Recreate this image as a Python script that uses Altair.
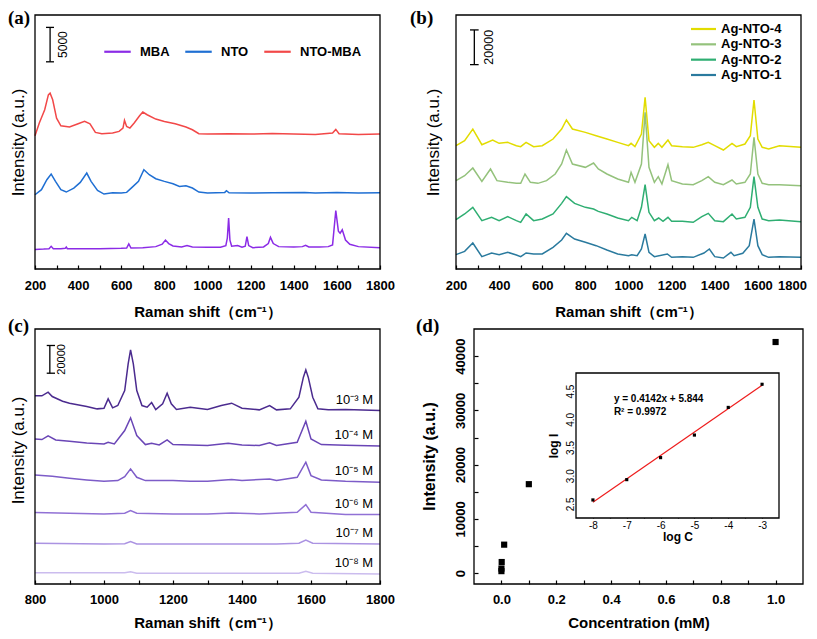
import altair as alt
import pandas as pd

W, H = 801, 623
SANS = "Liberation Sans"
SERIF = "Liberation Serif"

# ---------------- panel (a) ----------------
A_NAMES = ["MBA", "NTO", "NTO-MBA"]
A_COLORS = ["#8b2be6", "#1f6fd3", "#f24848"]
A_MBA = [(200, 2850), (240, 2900), (265, 2950), (275, 3300), (285, 2950), (320, 2950), (340, 3000),
         (345, 3200), (350, 2950), (400, 2950), (500, 2950), (600, 3000), (625, 3050), (635, 3650),
         (645, 3050), (700, 3100), (760, 3250), (790, 3600), (805, 4200), (820, 3700), (840, 3350),
         (880, 3200), (905, 3400), (930, 3200), (1000, 3150), (1060, 3150), (1085, 3400), (1092, 4500),
         (1098, 7400), (1104, 4200), (1112, 3300), (1140, 3400), (1160, 3150), (1175, 3300), (1183, 4700),
         (1191, 3400), (1210, 3100), (1260, 3200), (1282, 3700), (1292, 4600), (1305, 3700), (1330, 3250),
         (1400, 3200), (1440, 3250), (1455, 3450), (1470, 3200), (1520, 3200), (1560, 3250), (1580, 3500),
         (1595, 8500), (1607, 5500), (1615, 5200), (1625, 5700), (1640, 4200), (1660, 3600), (1700, 3250),
         (1800, 3100)]
A_NTO = [(200, 10790), (230, 11520), (255, 12970), (275, 13790), (295, 12730), (320, 11520), (345, 11180),
         (380, 11760), (410, 12580), (440, 13940), (460, 12730), (490, 11420), (520, 10890), (560, 11080),
         (600, 11030), (625, 11130), (650, 11860), (680, 12730), (705, 14420), (730, 13700), (760, 13120),
         (800, 12730), (840, 12390), (870, 12000), (900, 12100), (930, 11760), (960, 11180), (1000, 11030),
         (1080, 11130), (1088, 11370), (1100, 11080), (1200, 11030), (1300, 11080), (1450, 11130),
         (1500, 11030), (1600, 11130), (1700, 11030), (1800, 11080)]
A_NTOMBA = [(200, 19360), (220, 21200), (245, 23130), (262, 25300), (270, 25550), (282, 24590), (300, 21920),
            (320, 20810), (360, 20620), (400, 21100), (430, 21440), (455, 21100), (480, 19840), (510, 19650),
            (560, 19750), (590, 19990), (608, 20470), (615, 21590), (625, 20710), (640, 20470), (660, 21200),
            (685, 22260), (700, 22800), (720, 22410), (760, 21780), (800, 21440), (850, 21100), (900, 20620),
            (930, 20230), (960, 19650), (1000, 19600), (1100, 19650), (1200, 19600), (1300, 19700),
            (1400, 19600), (1500, 19550), (1580, 19750), (1595, 20280), (1610, 19650), (1700, 19550),
            (1800, 19600)]
A_BAR = 5000

# ---------------- panel (b) ----------------
B_NAMES = ["Ag-NTO-4", "Ag-NTO-3", "Ag-NTO-2", "Ag-NTO-1"]
B_COLORS = ["#e2dc00", "#94c27c", "#2fae72", "#2a7a9e"]
B_1 = [(200, 8260), (240, 10180), (278, 14980), (320, 7110), (365, 9220), (400, 8260), (440, 9610),
       (480, 8070), (500, 7110), (525, 9220), (560, 8640), (600, 8640), (650, 12490), (690, 16710),
       (712, 20550), (750, 17290), (800, 15370), (850, 13450), (900, 10950), (950, 8640), (1000, 7680),
       (1015, 8260), (1040, 7680), (1060, 11530), (1077, 20170), (1095, 9610), (1120, 7110), (1180, 8640),
       (1200, 6720), (1250, 7110), (1300, 6720), (1350, 9220), (1375, 11530), (1400, 7110), (1440, 6340),
       (1475, 9610), (1490, 7680), (1530, 9030), (1560, 13450), (1582, 28810), (1600, 13450), (1620, 8260),
       (1650, 6720), (1700, 7110), (1800, 6720)]
B_2 = [(200, 28430), (240, 31700), (278, 35540), (320, 27850), (365, 29780), (400, 27850), (440, 30160),
       (480, 27850), (500, 26890), (525, 31700), (560, 27850), (600, 28820), (650, 31700), (690, 37840),
       (712, 41690), (750, 37840), (800, 35540), (838, 34580), (860, 33230), (900, 31700), (950, 29390),
       (1000, 27850), (1015, 29780), (1040, 27850), (1060, 35540), (1077, 48600), (1095, 32660),
       (1120, 27850), (1140, 29390), (1160, 27470), (1183, 29780), (1200, 27470), (1250, 27470),
       (1300, 26890), (1340, 30160), (1370, 32080), (1400, 27850), (1440, 27280), (1480, 31700),
       (1500, 28820), (1540, 29780), (1565, 35540), (1582, 53210), (1600, 35540), (1620, 28820),
       (1650, 27850), (1700, 28240), (1800, 27280)]
B_3 = [(200, 50910), (240, 53790), (278, 58210), (320, 50520), (360, 57630), (390, 50910), (440, 49950),
       (480, 49370), (500, 49370), (520, 54750), (545, 49950), (580, 49370), (620, 50910), (660, 54750),
       (690, 60510), (712, 68580), (740, 60510), (800, 58590), (838, 61090), (860, 57630), (900, 54750),
       (950, 51870), (1000, 49950), (1012, 55710), (1030, 49950), (1060, 60510), (1077, 90290),
       (1095, 58590), (1120, 49950), (1138, 53210), (1155, 48990), (1183, 60120), (1200, 50910),
       (1250, 48990), (1300, 48600), (1340, 50910), (1370, 53210), (1400, 49950), (1440, 48600),
       (1480, 51290), (1500, 48990), (1540, 49950), (1565, 54750), (1582, 75880), (1600, 54750),
       (1620, 49370), (1650, 48600), (1700, 48600), (1800, 48030)]
B_4 = [(200, 71080), (240, 73960), (278, 80680), (320, 71650), (370, 74340), (400, 72420), (440, 73000),
       (480, 71080), (500, 70500), (525, 73000), (560, 70500), (600, 71080), (650, 74920), (690, 80680),
       (712, 85870), (740, 80680), (800, 78760), (850, 76840), (900, 74920), (950, 73000), (1000, 71080),
       (1012, 72420), (1030, 70500), (1060, 77800), (1077, 98930), (1095, 73960), (1120, 70120),
       (1138, 72420), (1155, 70120), (1183, 74340), (1200, 71080), (1250, 70500), (1300, 70120),
       (1340, 71650), (1370, 73000), (1400, 71080), (1440, 68580), (1480, 72420), (1500, 70500),
       (1540, 72040), (1565, 76840), (1582, 97390), (1600, 74920), (1620, 70120), (1650, 69160),
       (1700, 71080), (1800, 70120)]
B_BAR = 20000

# ---------------- panel (c) ----------------
C_NAMES = ["10⁻³ M", "10⁻⁴ M", "10⁻⁵ M", "10⁻⁶ M", "10⁻⁷ M", "10⁻⁸ M"]
C_COLORS = ["#4b2b8f", "#6a46b6", "#7d5cc8", "#9171d5", "#ab93e2", "#cbbcee"]
C_3 = [(800, 135750), (820, 135750), (838, 138400), (850, 135270), (880, 131900), (900, 130460),
       (950, 128050), (980, 126370), (1000, 126850), (1012, 133590), (1025, 127090), (1040, 128770),
       (1060, 139610), (1070, 158860), (1077, 168970), (1085, 158860), (1095, 139610), (1110, 128770),
       (1125, 127570), (1138, 130940), (1150, 125890), (1170, 129980), (1183, 137680), (1195, 129980),
       (1210, 125890), (1250, 127570), (1300, 125890), (1340, 128770), (1370, 130460), (1400, 126850),
       (1450, 125650), (1480, 128770), (1500, 125650), (1540, 126370), (1565, 134790), (1578, 149230),
       (1585, 154530), (1592, 149230), (1605, 134790), (1620, 126370), (1650, 125650), (1700, 125890),
       (1800, 125160)]
C_4 = [(800, 104700), (820, 104220), (838, 106870), (860, 103980), (900, 103020), (950, 101820),
       (1000, 101090), (1012, 102300), (1030, 101090), (1060, 110720), (1077, 119870), (1095, 107110),
       (1120, 100610), (1138, 101580), (1160, 100370), (1183, 103980), (1200, 100610), (1250, 100370),
       (1300, 99890), (1360, 101580), (1400, 100370), (1450, 99890), (1480, 101820), (1500, 99890),
       (1560, 102300), (1585, 117460), (1600, 104700), (1630, 100610), (1700, 100130), (1800, 99650)]
C_5 = [(800, 78710), (850, 77750), (900, 76300), (950, 75100), (1000, 74140), (1040, 74620), (1060, 77510),
       (1077, 83040), (1095, 77020), (1120, 74620), (1200, 74620), (1250, 74140), (1300, 74140),
       (1370, 75340), (1400, 74620), (1480, 75820), (1500, 74620), (1560, 77020), (1585, 87860),
       (1600, 78230), (1630, 75100), (1700, 74140), (1800, 73410)]
C_6 = [(800, 51510), (900, 51030), (1000, 50550), (1060, 51030), (1077, 52950), (1095, 51030),
       (1200, 50550), (1300, 50550), (1370, 51270), (1450, 50550), (1560, 51750), (1585, 57290),
       (1600, 51750), (1700, 50070), (1800, 50070)]
C_7 = [(800, 29370), (1000, 28880), (1060, 29130), (1077, 30570), (1095, 28880), (1500, 28880),
       (1565, 29370), (1585, 31770), (1605, 29370), (1800, 28880)]
C_8 = [(800, 8180), (1060, 8180), (1077, 8910), (1095, 7700), (1565, 7700), (1585, 9150), (1605, 7700),
       (1800, 7220)]
C_BAR = 20000

# ---------------- panel (d) ----------------
D_CONC = [0.00001, 0.0001, 0.001, 0.01, 0.1, 1.0]
D_INT = [370, 850, 2050, 5250, 16400, 42600]
D_LOGC = [-8, -7, -6, -5, -4, -3]
D_LOGI = [2.57, 2.93, 3.32, 3.72, 4.21, 4.62]
D_FIT_X = [-8, -3]
D_FIT_Y = [2.530, 4.601]
D_EQ = "y = 0.4142x + 5.844"
D_R2 = "R² = 0.9972"

ONE = pd.DataFrame({"k": [0]})


def sc(dom, rng):
    return alt.Scale(domain=dom, range=rng, nice=False, zero=False)


def long_df(names, series):
    rows = []
    for n, s in zip(names, series):
        for x, y in s:
            rows.append({"x": x, "y": y, "s": n})
    return pd.DataFrame(rows)


def bottom_axis(values, expr, y_frame, title, title_x, title_cy, tick=4, pad=10, fs=13, tfs=15,
                lw="bold", tw="bold", last_shift=None):
    ax_y = y_frame - tick
    extra = {}
    if last_shift is not None:
        extra["labelOffset"] = {"condition": {"test": f"datum.value == {last_shift[0]}",
                                              "value": last_shift[1]}, "value": 0}
    return alt.Axis(orient="bottom", offset=ax_y - H, values=values, labelExpr=expr, domain=False,
                    grid=False, ticks=True, tickSize=tick, tickColor="black", tickWidth=1.2,
                    labelPadding=pad, labelFont=SANS, labelFontSize=fs, labelFontWeight=lw,
                    labelColor="black", labelFlush=False, labelOverlap=False, labelAngle=0,
                    title=title, titleFont=SANS, titleFontSize=tfs, titleFontWeight=tw,
                    titleColor="black", titleX=title_x, titleY=title_cy - ax_y,
                    titleBaseline="middle", titleAlign="center", titleAngle=0, **extra)


def left_title_axis(x_frame, title, title_cx, title_cy, tfs=17, tw="normal"):
    return alt.Axis(orient="left", offset=-x_frame, domain=False, grid=False, ticks=False, labels=False,
                    title=title, titleFont=SANS, titleFontSize=tfs, titleFontWeight=tw,
                    titleColor="black", titleX=title_cx - x_frame, titleY=title_cy,
                    titleBaseline="middle", titleAlign="center", titleAngle=270)


def left_axis(values, expr, x_frame, title, title_cx, title_cy, tick=4, pad=7, fs=13, tfs=16,
              lw="bold", tw="bold"):
    ax_x = x_frame + tick
    return alt.Axis(orient="left", offset=-ax_x, values=values, labelExpr=expr, domain=False,
                    grid=False, ticks=True, tickSize=tick, tickColor="black", tickWidth=1.2,
                    labelPadding=pad, labelFont=SANS, labelFontSize=fs, labelFontWeight=lw,
                    labelColor="black", labelFlush=False, labelOverlap=False, labelAngle=270,
                    labelAlign="center", labelBaseline="bottom",
                    title=title, titleFont=SANS, titleFontSize=tfs, titleFontWeight=tw,
                    titleColor="black", titleX=title_cx - ax_x, titleY=title_cy,
                    titleBaseline="middle", titleAlign="center", titleAngle=270)


def frame(xs, ys, xd, yd, fill=False):
    m = alt.Chart(ONE).mark_rect(stroke="black", strokeWidth=1.3, fill="white",
                                 fillOpacity=1 if fill else 0)
    return m.encode(x=alt.XDatum(xd[0], scale=xs), x2=alt.datum(xd[1]),
                    y=alt.YDatum(yd[0], scale=ys), y2=alt.datum(yd[1]))


def scalebar(xs, ys, x, xl, xr, y0, y1, label, tx, fs):
    base = alt.Chart(ONE).mark_rule(color="black", strokeWidth=1.3)
    v = base.encode(x=alt.XDatum(x, scale=xs), y=alt.YDatum(y0, scale=ys), y2=alt.datum(y1))
    b0 = base.encode(x=alt.XDatum(xl, scale=xs), x2=alt.datum(xr), y=alt.YDatum(y0, scale=ys))
    b1 = base.encode(x=alt.XDatum(xl, scale=xs), x2=alt.datum(xr), y=alt.YDatum(y1, scale=ys))
    t = alt.Chart(ONE).mark_text(angle=270, font=SANS, fontSize=fs, color="black", align="center",
                                 baseline="middle").encode(
        x=alt.XDatum(tx, scale=xs), y=alt.YDatum((y0 + y1) / 2, scale=ys), text=alt.value(label))
    return [v, b0, b1, t]


RAMAN = "Raman shift（cm⁻¹）"
INT = "Intensity (a.u.)"
X_VALS = list(range(200, 1801, 100))
X_EXPR = "datum.value % 200 == 0 ? '' + datum.value : ''"

# ---- panel (a)
A_XS = sc([200, 1800], [27, 372])
A_YS = sc([0, 36900], [261, 7])
a_df = long_df(A_NAMES, [A_MBA, A_NTO, A_NTOMBA])
a_lines = alt.Chart(a_df).mark_line(strokeWidth=1.5).encode(
    x=alt.X("x:Q", scale=A_XS, axis=bottom_axis(X_VALS, X_EXPR, 261, RAMAN, 199.5, 303)),
    y=alt.Y("y:Q", scale=A_YS, axis=left_title_axis(27, INT, 10.5, 134)),
    color=alt.Color("s:N", scale=alt.Scale(domain=A_NAMES, range=A_COLORS),
                    legend=alt.Legend(orient="none", legendX=95, legendY=29, direction="horizontal",
                                      title=None, symbolType="stroke", symbolSize=700,
                                      symbolStrokeWidth=2.2, labelFont=SANS, labelFontSize=13,
                                      labelFontWeight="bold", labelColor="black", labelOffset=8,
                                      columnPadding=10, padding=0, labelLimit=300)),
)
panel_a = alt.layer(a_lines, frame(A_XS, A_YS, [200, 1800], [0, 36900]),
                    *scalebar(A_XS, A_YS, 270, 251, 288, 30100, 30100 + A_BAR, str(A_BAR), 330, 12))

# ---- panel (b)
B_XS = sc([200, 1800], [448, 793])
B_YS = sc([0, 146400], [261, 7])
B_CSCALE = alt.Scale(domain=B_NAMES, range=B_COLORS)
b_df = long_df(B_NAMES, [B_4, B_3, B_2, B_1])
b_lines = alt.Chart(b_df).mark_line(strokeWidth=1.5).encode(
    x=alt.X("x:Q", scale=B_XS,
            axis=bottom_axis(X_VALS, X_EXPR, 261, RAMAN, 620.5, 303, last_shift=(1800, -9))),
    y=alt.Y("y:Q", scale=B_YS, axis=left_title_axis(448, INT, 425, 134)),
    color=alt.Color("s:N", scale=B_CSCALE, legend=None),
)
panel_b = alt.layer(b_lines, frame(B_XS, B_YS, [200, 1800], [0, 146400]),
                    *scalebar(B_XS, B_YS, 285, 265, 305, 117800, 117800 + B_BAR, str(B_BAR), 352, 12.5))

# legend of (b): one row per series name, rows placed by a point scale
B_ROWS = alt.Scale(type="point", domain=B_NAMES, range=[21, 67], padding=0)
b_leg_df = pd.DataFrame({"s": B_NAMES})
b_leg_line = alt.Chart(b_leg_df).mark_rule(strokeWidth=2.2).encode(
    x=alt.value(683), x2=alt.value(708), y=alt.Y("s:N", scale=B_ROWS, axis=None),
    color=alt.Color("s:N", scale=B_CSCALE, legend=None))
b_leg_text = alt.Chart(b_leg_df).mark_text(font=SANS, fontSize=13, fontWeight="bold", color="black",
                                           align="left", baseline="middle").encode(
    x=alt.value(713), y=alt.Y("s:N", scale=B_ROWS, axis=None), text="s:N")
legend_b = alt.layer(b_leg_line, b_leg_text)

# ---- panel (c)
C_XS = sc([800, 1800], [27, 372])
C_YS = sc([0, 184000], [576, 321])
C_SERIES = [C_3, C_4, C_5, C_6, C_7, C_8]
c_df = long_df(C_NAMES, C_SERIES)
c_lab = pd.DataFrame({"t": C_NAMES, "x": [1780] * 6, "y": [s[-1][1] for s in C_SERIES]})
c_lines = alt.Chart(c_df).mark_line(strokeWidth=1.5).encode(
    x=alt.X("x:Q", scale=C_XS,
            axis=bottom_axis(list(range(800, 1801, 100)), X_EXPR, 576, RAMAN, 199.5, 614, pad=9)),
    y=alt.Y("y:Q", scale=C_YS, axis=left_title_axis(27, INT, 10.5, 442)),
    color=alt.Color("s:N", scale=alt.Scale(domain=C_NAMES, range=C_COLORS), legend=None),
)
c_text = alt.Chart(c_lab).mark_text(font=SANS, fontSize=13, color="black", align="right",
                                    baseline="middle", dy=-11).encode(
    x=alt.X("x:Q", scale=C_XS), y=alt.Y("y:Q", scale=C_YS), text="t:N")
panel_c = alt.layer(c_lines, frame(C_XS, C_YS, [800, 1800], [0, 184000]), c_text,
                    *scalebar(C_XS, C_YS, 843, 834, 858, 152100, 152100 + C_BAR, str(C_BAR), 879, 11))

# ---- panel (d)
D_XS = sc([-0.1, 1.1], [466, 795])
D_YS = sc([-2000, 45000], [576, 321])
d_df = pd.DataFrame({"c": D_CONC, "i": D_INT})
d_pts = alt.Chart(d_df).mark_square(size=38, color="black", opacity=1).encode(
    x=alt.X("c:Q", scale=D_XS,
            axis=bottom_axis([round(v * 0.1, 1) for v in range(0, 11)],
                             "round(datum.value*10) % 2 == 0 ? format(datum.value, '.1f') : ''",
                             576, "Concentration (mM)", 630.5, 614, pad=9)),
    y=alt.Y("i:Q", scale=D_YS,
            axis=left_axis(list(range(0, 40001, 5000)),
                           "datum.value % 10000 == 0 ? format(datum.value, 'd') : ''",
                           466, INT, 421.7, 448)),
)
panel_d = alt.layer(d_pts, frame(D_XS, D_YS, [-0.1, 1.1], [-2000, 45000]))

# ---- inset
I_XS = sc([-8.5, -2.5], [568, 771])
I_YS = sc([2.25, 4.82], [510, 365])
i_df = pd.DataFrame({"lc": D_LOGC, "li": D_LOGI})
fit_df = pd.DataFrame({"lc": D_FIT_X, "li": D_FIT_Y})
i_box = frame(I_XS, I_YS, [-8.5, -2.5], [2.25, 4.82], fill=True).encode(
    x=alt.XDatum(-8.5, scale=I_XS,
                 axis=bottom_axis([v * 0.5 for v in range(-16, -5)],
                                  "datum.value % 1 == 0 ? '' + datum.value : ''", 510, "log C", 669.5,
                                  528, tick=3, pad=2, fs=10, tfs=12, lw="normal")),
    y=alt.YDatum(2.25, scale=I_YS,
                 axis=left_axis([2.5 + v * 0.25 for v in range(0, 10)],
                                "round(datum.value*4) % 2 == 0 ? format(datum.value, '.1f') : ''",
                                568, "log I", 545.7, 437.5, tick=3, pad=1, fs=10, tfs=12, lw="normal")),
)
i_fit = alt.Chart(fit_df).mark_line(color="#ee1c1c", strokeWidth=1.2).encode(
    x=alt.X("lc:Q", scale=I_XS), y=alt.Y("li:Q", scale=I_YS))
i_pts = alt.Chart(i_df).mark_square(size=10, color="black", opacity=1).encode(
    x=alt.X("lc:Q", scale=I_XS), y=alt.Y("li:Q", scale=I_YS))
i_eq = alt.Chart(ONE).mark_text(font=SANS, fontSize=10, fontWeight="bold", color="black", align="left",
                                baseline="middle").encode(
    x=alt.XDatum(-7.38, scale=I_XS), y=alt.YDatum(4.365, scale=I_YS), text=alt.value(D_EQ))
i_r2 = alt.Chart(ONE).mark_text(font=SANS, fontSize=10, fontWeight="bold", color="black", align="left",
                                baseline="middle").encode(
    x=alt.XDatum(-7.38, scale=I_XS), y=alt.YDatum(4.13, scale=I_YS), text=alt.value(D_R2))
inset = alt.layer(i_box, i_fit, i_pts, i_eq, i_r2)


def plabel(t, x, y):
    return alt.Chart(pd.DataFrame({"t": [t]})).mark_text(
        font=SERIF, fontSize=19, fontWeight="bold", color="black", align="left", baseline="top").encode(
        x=alt.value(x), y=alt.value(y), text="t:N")


chart = alt.layer(
    panel_a, panel_b, legend_b, panel_c, panel_d, inset,
    plabel("(a)", 0, 1), plabel("(b)", 402, 1), plabel("(c)", 0, 309), plabel("(d)", 408, 309),
).resolve_scale(x="independent", y="independent", color="independent").properties(
    width=W, height=H, padding=0, autosize=alt.AutoSizeParams(type="none"),
    background="white",
).configure_view(strokeWidth=0)

chart.save("out.html", embed_options={"renderer": "svg", "actions": False})
